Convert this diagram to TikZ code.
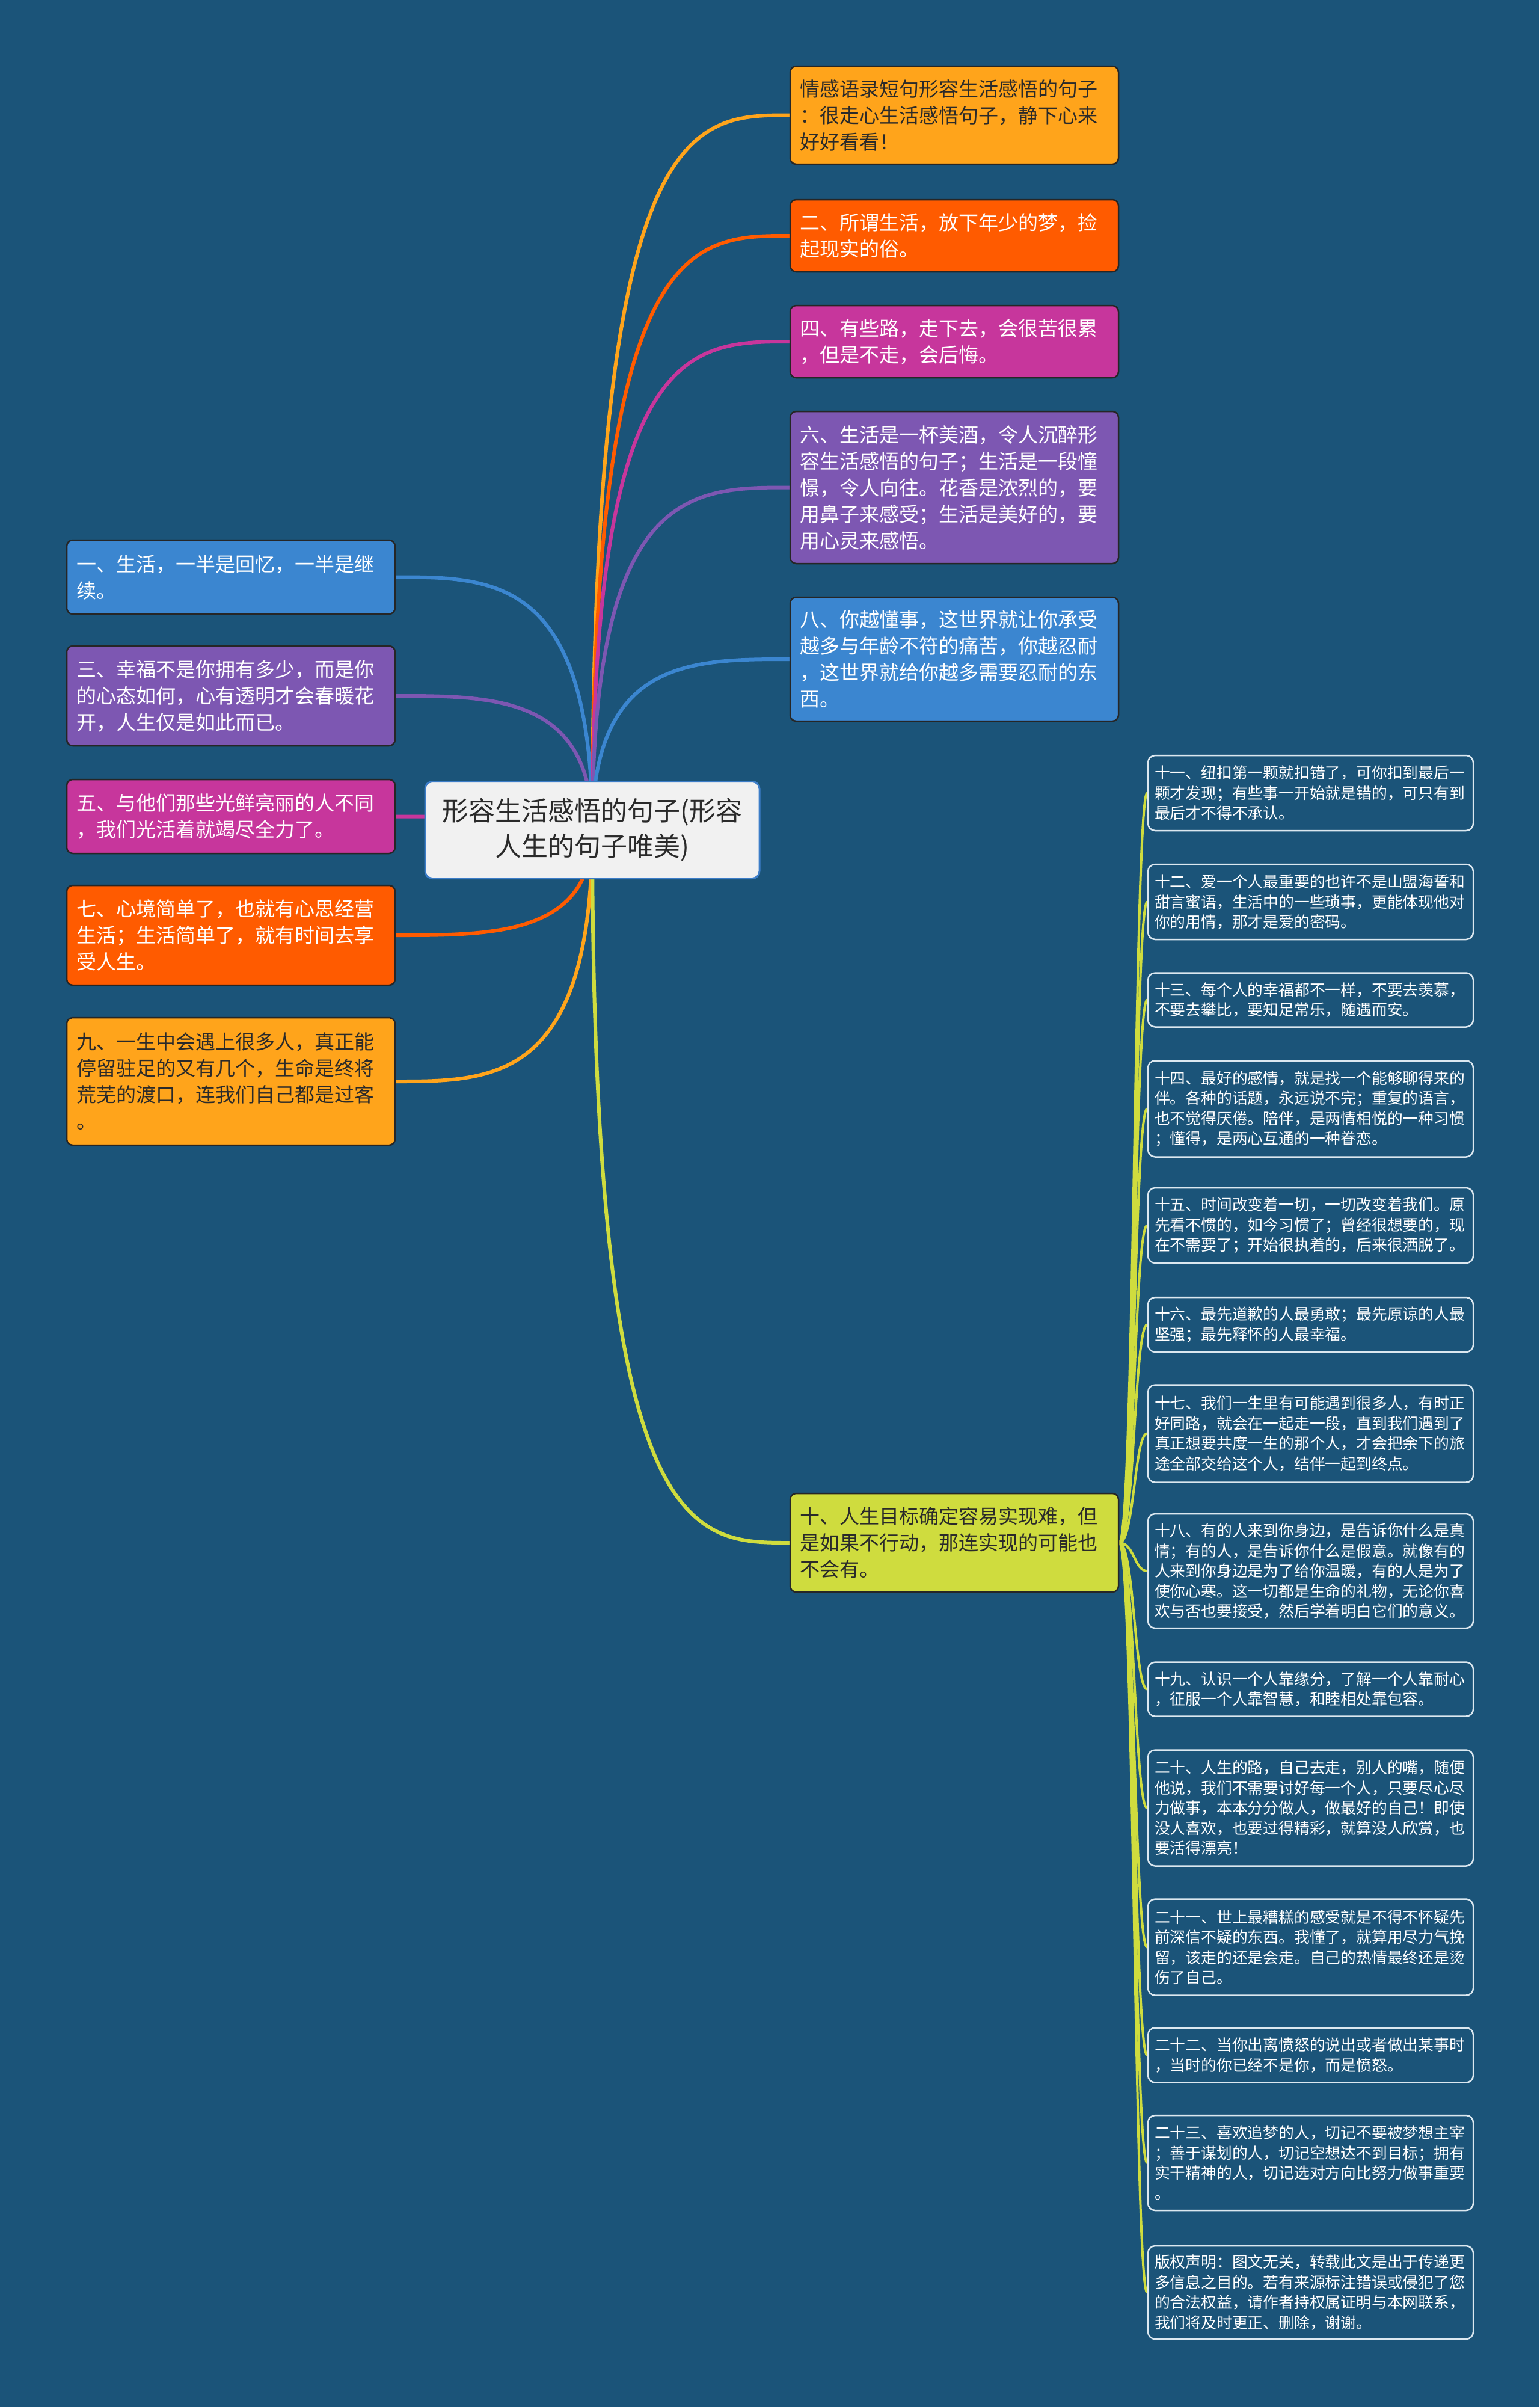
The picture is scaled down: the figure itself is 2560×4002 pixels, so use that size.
\documentclass[tikz,border=0pt]{standalone}
\usepackage{fontspec}
\newfontfamily\cjk{Noto Sans CJK SC}
\usetikzlibrary{backgrounds,calc}
\definecolor{bg}{HTML}{1B5479}
\definecolor{cblue}{HTML}{3B86D0}
\definecolor{cpurple}{HTML}{7D57B2}
\definecolor{cmag}{HTML}{C7369C}
\definecolor{corange}{HTML}{FF5B00}
\definecolor{coy}{HTML}{FFA41B}
\definecolor{cyg}{HTML}{CFDC3E}
\definecolor{rootfill}{HTML}{F1F1F1}
\definecolor{rootdraw}{HTML}{3C7DC8}
\definecolor{darktext}{HTML}{2A2A2A}
\definecolor{leafdraw}{HTML}{DCE8F0}
\tikzset{
  box/.style={rectangle, rounded corners=10pt, draw=black!85, line width=2.5pt,
    text width=514pt, inner xsep=16pt, inner ysep=0pt, align=left,
    font=\cjk\fontsize{33}{44}\selectfont},
  leaf/.style={rectangle, rounded corners=12pt, draw=leafdraw, line width=2.5pt,
    text width=519pt, inner xsep=11pt, inner ysep=0pt, align=left, fill=bg,
    text=white, font=\cjk\fontsize{25.8}{33.5}\selectfont},
  rootbox/.style={rectangle, rounded corners=12pt, draw=rootdraw, line width=3pt,
    fill=rootfill, text=darktext, minimum width=556pt, minimum height=161pt,
    align=center, font=\cjk\fontsize{44}{59}\selectfont},
  conn/.style={line width=6pt},
  lconn/.style={line width=4pt, draw=cyg},
}
\newcommand\mmlink[3]{\draw[conn,#1] (#2.center) .. controls (#2.center |- #3) and ($(#2.center |- #3)!0.5!(#3)$) .. (#3);}
\newcommand\leaflink[2]{\draw[lconn] (#1.east) .. controls ($(#1.east)+(25,0)$) and ($(#1.east |- #2.west)+(25,0)$) .. (#2.west);}
\begin{document}
\begin{tikzpicture}[x=1pt,y=-1pt]
\useasboundingbox (0,0) rectangle (2560,4002);
% root
\node[rootbox] (root) at (985,1380) {形容生活感悟的句子(形容\\人生的句子唯美)};
% left nodes
\node[box, fill=cblue, text=white, minimum height=123pt] (l1) at (384,959.5) {一、生活，一半是回忆，一半是继\\续。};
\node[box, fill=cpurple, text=white, minimum height=166pt] (l3) at (384,1157) {三、幸福不是你拥有多少，而是你\\的心态如何，心有透明才会春暖花\\开，人生仅是如此而已。};
\node[box, fill=cmag, text=white, minimum height=123pt] (l5) at (384,1357.5) {五、与他们那些光鲜亮丽的人不同\\，我们光活着就竭尽全力了。};
\node[box, fill=corange, text=white, minimum height=166pt] (l7) at (384,1555) {七、心境简单了，也就有心思经营\\生活；生活简单了，就有时间去享\\受人生。};
\node[box, fill=coy, text=darktext, minimum height=212pt] (l9) at (384,1798) {九、一生中会遇上很多人，真正能\\停留驻足的又有几个，生命是终将\\荒芜的渡口，连我们自己都是过客\\。};
% right nodes
\node[box, fill=coy, text=darktext, minimum height=163pt] (ra) at (1587,191.5) {情感语录短句形容生活感悟的句子\\：很走心生活感悟句子，静下心来\\好好看看！};
\node[box, fill=corange, text=white, minimum height=120pt] (rb) at (1587,392) {二、所谓生活，放下年少的梦，捡\\起现实的俗。};
\node[box, fill=cmag, text=white, minimum height=120pt] (rc) at (1587,568) {四、有些路，走下去，会很苦很累\\，但是不走，会后悔。};
\node[box, fill=cpurple, text=white, minimum height=253pt] (rd) at (1587,810.5) {六、生活是一杯美酒，令人沉醉形\\容生活感悟的句子；生活是一段憧\\憬，令人向往。花香是浓烈的，要\\用鼻子来感受；生活是美好的，要\\用心灵来感悟。};
\node[box, fill=cblue, text=white, minimum height=206pt] (re) at (1587,1096) {八、你越懂事，这世界就让你承受\\越多与年龄不符的痛苦，你越忍耐\\，这世界就给你越多需要忍耐的东\\西。};
\node[box, fill=cyg, text=darktext, minimum height=164pt] (rf) at (1587,2565) {十、人生目标确定容易实现难，但\\是如果不行动，那连实现的可能也\\不会有。};
% leaves
\node[leaf, minimum height=125pt] (k11) at (2179.5,1318.5) {十一、纽扣第一颗就扣错了，可你扣到最后一\\颗才发现；有些事一开始就是错的，可只有到\\最后才不得不承认。};
\node[leaf, minimum height=125pt] (k12) at (2179.5,1499.5) {十二、爱一个人最重要的也许不是山盟海誓和\\甜言蜜语，生活中的一些琐事，更能体现他对\\你的用情，那才是爱的密码。};
\node[leaf, minimum height=90pt] (k13) at (2179.5,1662.5) {十三、每个人的幸福都不一样，不要去羡慕，\\不要去攀比，要知足常乐，随遇而安。};
\node[leaf, minimum height=160pt] (k14) at (2179.5,1843.5) {十四、最好的感情，就是找一个能够聊得来的\\伴。各种的话题，永远说不完；重复的语言，\\也不觉得厌倦。陪伴，是两情相悦的一种习惯\\；懂得，是两心互通的一种眷恋。};
\node[leaf, minimum height=125pt] (k15) at (2179.5,2037.5) {十五、时间改变着一切，一切改变着我们。原\\先看不惯的，如今习惯了；曾经很想要的，现\\在不需要了；开始很执着的，后来很洒脱了。};
\node[leaf, minimum height=91pt] (k16) at (2179.5,2202.5) {十六、最先道歉的人最勇敢；最先原谅的人最\\坚强；最先释怀的人最幸福。};
\node[leaf, minimum height=162pt] (k17) at (2179.5,2383.5) {十七、我们一生里有可能遇到很多人，有时正\\好同路，就会在一起走一段，直到我们遇到了\\真正想要共度一生的那个人，才会把余下的旅\\途全部交给这个人，结伴一起到终点。};
\node[leaf, minimum height=190pt] (k18) at (2179.5,2612) {十八、有的人来到你身边，是告诉你什么是真\\情；有的人，是告诉你什么是假意。就像有的\\人来到你身边是为了给你温暖，有的人是为了\\使你心寒。这一切都是生命的礼物，无论你喜\\欢与否也要接受，然后学着明白它们的意义。};
\node[leaf, minimum height=90pt] (k19) at (2179.5,2808.5) {十九、认识一个人靠缘分，了解一个人靠耐心\\，征服一个人靠智慧，和睦相处靠包容。};
\node[leaf, minimum height=193pt] (k20) at (2179.5,3006) {二十、人生的路，自己去走，别人的嘴，随便\\他说，我们不需要讨好每一个人，只要尽心尽\\力做事，本本分分做人，做最好的自己！即使\\没人喜欢，也要过得精彩，就算没人欣赏，也\\要活得漂亮！};
\node[leaf, minimum height=160pt] (k21) at (2179.5,3237.5) {二十一、世上最糟糕的感受就是不得不怀疑先\\前深信不疑的东西。我懂了，就算用尽力气挽\\留，该走的还是会走。自己的热情最终还是烫\\伤了自己。};
\node[leaf, minimum height=91pt] (k22) at (2179.5,3417) {二十二、当你出离愤怒的说出或者做出某事时\\，当时的你已经不是你，而是愤怒。};
\node[leaf, minimum height=158pt] (k23) at (2179.5,3596) {二十三、喜欢追梦的人，切记不要被梦想主宰\\；善于谋划的人，切记空想达不到目标；拥有\\实干精神的人，切记选对方向比努力做事重要\\。};
\node[leaf, minimum height=155pt] (k24) at (2179.5,3811.5) {版权声明：图文无关，转载此文是出于传递更\\多信息之目的。若有来源标注错误或侵犯了您\\的合法权益，请作者持权属证明与本网联系，\\我们将及时更正、删除，谢谢。};
\begin{pgfonlayer}{background}
  \fill[bg] (0,0) rectangle (2560,4002);
  \mmlink{draw=cblue}{root}{l1.east}
  \mmlink{draw=cpurple}{root}{l3.east}
  \mmlink{draw=cmag}{root}{l5.east}
  \mmlink{draw=corange}{root}{l7.east}
  \mmlink{draw=coy}{root}{l9.east}
  \mmlink{draw=coy}{root}{ra.west}
  \mmlink{draw=corange}{root}{rb.west}
  \mmlink{draw=cmag}{root}{rc.west}
  \mmlink{draw=cpurple}{root}{rd.west}
  \mmlink{draw=cblue}{root}{re.west}
  \mmlink{draw=cyg}{root}{rf.west}
  \leaflink{rf}{k11}
  \leaflink{rf}{k12}
  \leaflink{rf}{k13}
  \leaflink{rf}{k14}
  \leaflink{rf}{k15}
  \leaflink{rf}{k16}
  \leaflink{rf}{k17}
  \leaflink{rf}{k18}
  \leaflink{rf}{k19}
  \leaflink{rf}{k20}
  \leaflink{rf}{k21}
  \leaflink{rf}{k22}
  \leaflink{rf}{k23}
  \leaflink{rf}{k24}
\end{pgfonlayer}
\end{tikzpicture}
\end{document}
